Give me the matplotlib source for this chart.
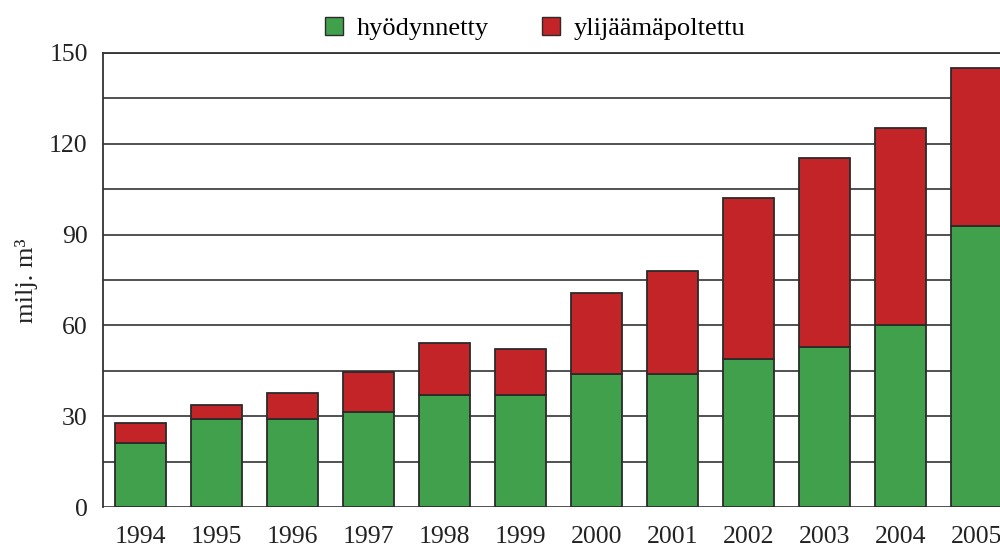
import matplotlib.pyplot as plt
from matplotlib.patches import Patch

years = ["1994", "1995", "1996", "1997", "1998", "1999",
         "2000", "2001", "2002", "2003", "2004", "2005"]
hyodynnetty = [21, 29, 29, 31.5, 37, 37, 44, 44, 49, 52.7, 60, 93]
totals = [27.7, 33.7, 37.5, 44.7, 54.3, 52.2, 70.6, 78, 102, 115.2, 125.2, 145]
ylijaama = [t - h for t, h in zip(totals, hyodynnetty)]

green = "#41a04b"
red = "#c32427"
edge = "#2b2b2b"

plt.rcParams['font.family'] = ['Liberation Serif', 'DejaVu Serif']

fig = plt.figure(figsize=(10, 5.49), dpi=100)
ax = fig.add_axes([0.103, 0.0765, 0.897, 0.827])

x = list(range(len(years)))
ax.bar(x, hyodynnetty, width=0.67, color=green, edgecolor=edge, linewidth=1.3, zorder=3)
ax.bar(x, ylijaama, bottom=hyodynnetty, width=0.67, color=red, edgecolor=edge,
       linewidth=1.3, zorder=3)

ax.set_ylim(0, 150)
ax.set_xlim(-0.493, 11.31)
ax.set_yticks(range(0, 151, 30))
ax.set_yticks(range(15, 150, 30), minor=True)
ax.grid(axis='y', which='both', color='#333333', linewidth=1.2, zorder=1)
ax.set_axisbelow(True)

ax.set_xticks(x)
ax.set_xticklabels(years)
ax.tick_params(axis='x', length=0, pad=13.5, labelsize=18.5, colors='#222222')
ax.tick_params(axis='y', which='both', length=0, pad=11, labelsize=18.5, colors='#222222')

for side in ['right', 'bottom']:
    ax.spines[side].set_visible(False)
ax.spines['left'].set_color('#333333')
ax.spines['left'].set_linewidth(1.3)
ax.spines['top'].set_color('#333333')
ax.spines['top'].set_linewidth(1.3)

fig.text(0.026, 0.488, "milj. m³", rotation=90, ha='center', va='center',
         fontsize=19, color='#222222')

handles = [Patch(facecolor=green, edgecolor=edge, linewidth=1.0),
           Patch(facecolor=red, edgecolor=edge, linewidth=1.0)]
fig.legend(handles, ["hyödynnetty", "ylijäämäpoltettu"], ncol=2, loc='center',
           bbox_to_anchor=(0.535, 0.948), frameon=False, fontsize=19,
           handlelength=0.7, handleheight=0.7, handletextpad=0.5, columnspacing=2.0)

fig.savefig("out.png", dpi=100)
